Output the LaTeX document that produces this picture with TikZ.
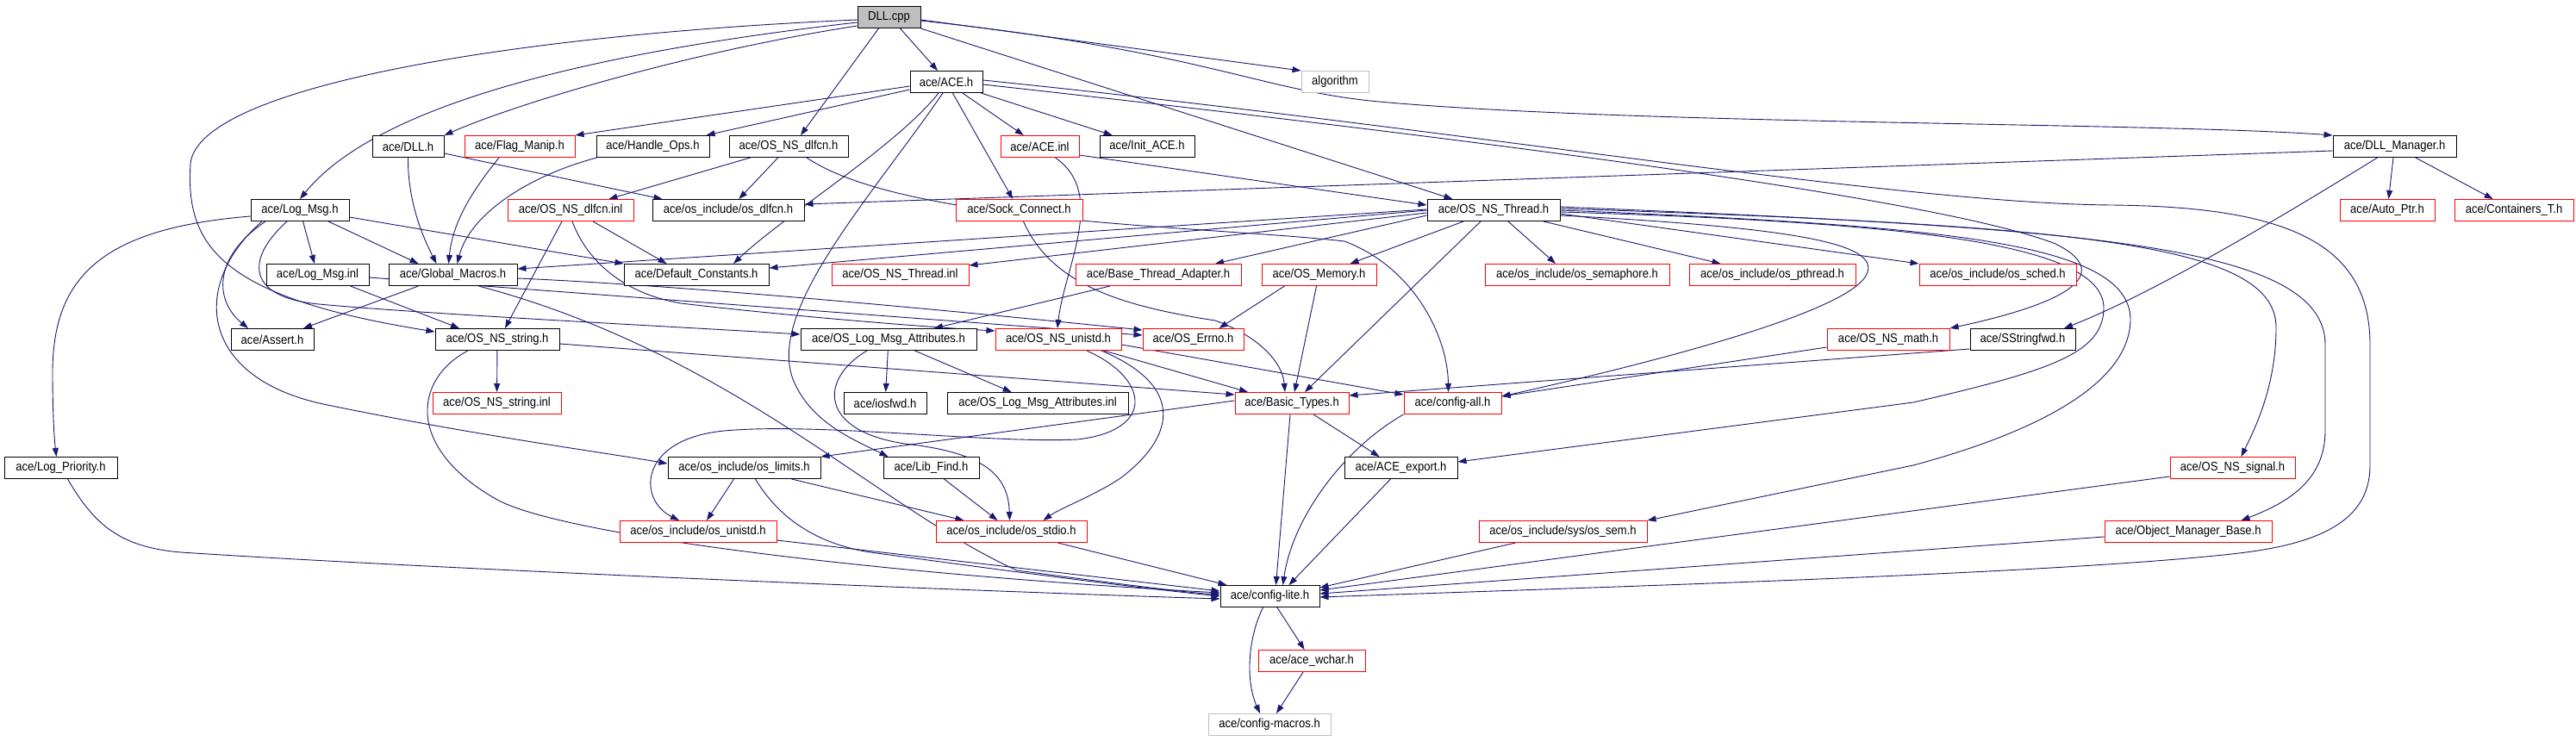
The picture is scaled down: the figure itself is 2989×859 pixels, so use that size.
\documentclass[tikz,border=0pt]{standalone}
\usepackage{fontspec}
\setmainfont[FakeStretch=0.9]{Liberation Sans}
\usetikzlibrary{arrows.meta}
\pgfdeclarelayer{bg}
\pgfsetlayers{bg,main}
\definecolor{edgec}{RGB}{25,25,112}
\definecolor{grayc}{RGB}{191,191,191}
\begin{document}
\begin{tikzpicture}[x=1pt,y=-1pt,
  bb/.style={draw=black, line width=1pt, minimum height=25pt, inner sep=0pt, fill=white, text=black, font=\fontsize{14.5}{16}\selectfont},
  rb/.style={bb, draw=red},
  gb/.style={bb, draw=grayc},
  edge/.style={draw=edgec, line width=0.9pt, -{Triangle[length=10pt,width=7pt]}}]
\path[use as bounding box] (0,0) rectangle (2989,859);
% row 0-1
\node[bb, fill=grayc, minimum width=73pt] (dllcpp) at (1031.5,20) {DLL.cpp};
\node[bb, minimum width=84pt] (aceh) at (1098,95) {ace/ACE.h};
\node[gb, minimum width=78pt] (algorithm) at (1549,95) {algorithm};
% row 2
\node[bb, minimum width=83pt] (dllh) at (473.5,170) {ace/DLL.h};
\node[rb, minimum width=128pt] (flagmanip) at (603,170) {ace/Flag\_Manip.h};
\node[bb, minimum width=131pt] (handleops) at (757.5,170) {ace/Handle\_Ops.h};
\node[bb, minimum width=138pt] (osnsdlfcnh) at (915,170) {ace/OS\_NS\_dlfcn.h};
\node[rb, minimum width=91pt] (aceinl) at (1206.5,170) {ace/ACE.inl};
\node[bb, minimum width=110pt] (initace) at (1331,170) {ace/Init\_ACE.h};
\node[bb, minimum width=143pt] (dllmanager) at (2778.5,170) {ace/DLL\_Manager.h};
% row 3
\node[bb, minimum width=114pt] (logmsgh) at (348,244) {ace/Log\_Msg.h};
\node[rb, minimum width=146pt] (osnsdlfcninl) at (662,244) {ace/OS\_NS\_dlfcn.inl};
\node[bb, minimum width=176pt] (osdlfcn) at (845,244) {ace/os\_include/os\_dlfcn.h};
\node[rb, minimum width=147pt] (sockconnect) at (1182.5,244) {ace/Sock\_Connect.h};
\node[bb, minimum width=154pt] (osnsthreadh) at (1733,244) {ace/OS\_NS\_Thread.h};
\node[rb, minimum width=110pt] (autoptr) at (2770,244) {ace/Auto\_Ptr.h};
\node[rb, minimum width=138pt] (containers) at (2917,244) {ace/Containers\_T.h};
% row 4
\node[bb, minimum width=119pt] (logmsginl) at (368.5,319) {ace/Log\_Msg.inl};
\node[bb, minimum width=149pt] (globalmacros) at (525.5,319) {ace/Global\_Macros.h};
\node[bb, minimum width=168pt] (defaultconst) at (808,319) {ace/Default\_Constants.h};
\node[rb, minimum width=159pt] (osnsthreadinl) at (1044.5,319) {ace/OS\_NS\_Thread.inl};
\node[rb, minimum width=192pt] (basethread) at (1344,319) {ace/Base\_Thread\_Adapter.h};
\node[rb, minimum width=133pt] (osmemory) at (1530.5,319) {ace/OS\_Memory.h};
\node[rb, minimum width=214pt] (ossemaphore) at (1830,319) {ace/os\_include/os\_semaphore.h};
\node[rb, minimum width=193pt] (ospthread) at (2056.5,319) {ace/os\_include/os\_pthread.h};
\node[rb, minimum width=182pt] (ossched) at (2318,319) {ace/os\_include/os\_sched.h};
% row 5
\node[bb, minimum width=96pt] (asserth) at (316,394) {ace/Assert.h};
\node[bb, minimum width=144pt] (osnsstringh) at (577,394) {ace/OS\_NS\_string.h};
\node[bb, minimum width=204pt] (oslogmsgattrh) at (1031,394) {ace/OS\_Log\_Msg\_Attributes.h};
\node[rb, minimum width=146pt] (osnsunistd) at (1228,394) {ace/OS\_NS\_unistd.h};
\node[rb, minimum width=117pt] (oserrno) at (1384.5,394) {ace/OS\_Errno.h};
\node[rb, minimum width=142pt] (osnsmath) at (2191,394) {ace/OS\_NS\_math.h};
\node[bb, minimum width=122pt] (sstringfwd) at (2347,394) {ace/SStringfwd.h};
% row 6
\node[rb, minimum width=149pt] (osnsstringinl) at (576.5,468) {ace/OS\_NS\_string.inl};
\node[bb, minimum width=96pt] (iosfwd) at (1027,468) {ace/iosfwd.h};
\node[bb, minimum width=210pt] (oslogmsgattrinl) at (1204,468) {ace/OS\_Log\_Msg\_Attributes.inl};
\node[rb, minimum width=132pt] (basictypes) at (1499,468) {ace/Basic\_Types.h};
\node[rb, minimum width=113pt] (configall) at (1685.5,468) {ace/config-all.h};
% row 7
\node[bb, minimum width=131pt] (logpriority) at (70.5,543) {ace/Log\_Priority.h};
\node[bb, minimum width=177pt] (oslimits) at (863.5,543) {ace/os\_include/os\_limits.h};
\node[bb, minimum width=111pt] (libfind) at (1080.5,543) {ace/Lib\_Find.h};
\node[bb, minimum width=131pt] (aceexport) at (1625.5,543) {ace/ACE\_export.h};
\node[rb, minimum width=145pt] (osnssignal) at (2590.5,543) {ace/OS\_NS\_signal.h};
% row 8
\node[rb, minimum width=182pt] (osunistd) at (810,617) {ace/os\_include/os\_unistd.h};
\node[rb, minimum width=175pt] (osstdio) at (1173.5,617) {ace/os\_include/os\_stdio.h};
\node[rb, minimum width=195pt] (ossem) at (1813.5,617) {ace/os\_include/sys/os\_sem.h};
\node[rb, minimum width=194pt] (objmgrbase) at (2539,617) {ace/Object\_Manager\_Base.h};
% rows 9-11
\node[bb, minimum width=115pt] (configlite) at (1473.5,692) {ace/config-lite.h};
\node[rb, minimum width=124pt] (acewchar) at (1522,767) {ace/ace\_wchar.h};
\node[gb, minimum width=142pt] (configmacros) at (1473,841) {ace/config-macros.h};

\begin{pgfonlayer}{bg}
\fill[white] (0,0) rectangle (2989,859);
% DLL.cpp
\draw[edge] ([xshift=13pt]dllcpp.south) -- ([xshift=-10pt]aceh.north);
\draw[edge] ([xshift=-12pt]dllcpp.south) -- ([xshift=14pt]osnsdlfcnh.north);
\draw[edge] ([yshift=-3pt]dllcpp.east) -- (algorithm.north west);
\draw[edge] ([yshift=-10pt]dllcpp.west) .. controls (800,60) and (600,120) .. (dllh.north east);
\draw[edge] ([yshift=-6pt]dllcpp.west) .. controls (650,65) and (430,130) .. (logmsgh.north);
\draw[edge] ([yshift=-3pt]dllcpp.west) .. controls (600,40) and (230,100) .. (221,190) .. controls (215,285) and (255,345) .. ([yshift=-4pt]osnsstringh.north west);
\draw[edge] ([yshift=-4pt]dllcpp.east) .. controls (1400,60) and (1460,105) .. (1600,118) .. controls (1900,145) and (2500,142) .. (dllmanager.north west);
\draw[edge] (dllcpp.south east) -- ([xshift=30pt]osnsthreadh.north west);
% ACE.h
\draw[edge] ([yshift=-5pt]aceh.west) -- (flagmanip.north east);
\draw[edge] ([yshift=-9pt]aceh.west) -- ([xshift=-4pt]handleops.north east);
\draw[edge] (aceh) -- (aceinl);
\draw[edge] (aceh) -- (initace);
\draw[edge] (aceh) -- (sockconnect);
\draw[edge] ([xshift=-9pt]aceh.south) .. controls (1040,170) and (910,250) .. ([xshift=43pt]defaultconst.north);
\draw[edge] ([xshift=-4pt]aceh.south) .. controls (1010,230) and (890,360) .. (920,440) .. controls (940,490) and (990,510) .. ([xshift=6pt]libfind.north west);
\draw[edge] ([yshift=-3pt]aceh.east) .. controls (1700,160) and (2250,230) .. (2385,283) .. controls (2440,310) and (2430,345) .. (osnsmath.north east);
\draw[edge] ([yshift=2pt]aceh.east) .. controls (1700,150) and (2200,236) .. (2450,238) .. controls (2650,240) and (2750,280) .. (2750,400) -- (2750,540) .. controls (2750,600) and (2700,630) .. (2598,642) .. controls (2400,665) and (1900,680) .. ([yshift=-1pt]configlite.east);
% DLL.h, Flag_Manip, Handle_Ops
\draw[edge] (dllh.south) .. controls (473,230) and (488,270) .. ([xshift=-19pt]globalmacros.north);
\draw[edge] ([yshift=-8pt]dllh.east) -- ([xshift=12pt]osdlfcn.north west);
\draw[edge] ([xshift=-24pt]flagmanip.south) .. controls (545,225) and (525,260) .. ([xshift=-5pt]globalmacros.north);
\draw[edge] ([xshift=-65pt]handleops.south) .. controls (610,205) and (545,250) .. ([xshift=5pt]globalmacros.north);
% OS_NS_dlfcn.h
\draw[edge] (osnsdlfcnh) -- (osnsdlfcninl);
\draw[edge] (osnsdlfcnh) -- (osdlfcn);
\draw[edge] ([xshift=21pt]osnsdlfcnh.south) .. controls (1050,260) and (1400,262) .. (1560,280) .. controls (1640,310) and (1680,390) .. ([xshift=-5pt]configall.north);
% ACE.inl
\draw[edge] ([xshift=18pt]aceinl.south) .. controls (1285,225) and (1235,310) .. ([xshift=-1pt]osnsunistd.north);
\draw[edge] ([yshift=-10pt]aceinl.east) -- ([yshift=6pt]osnsthreadh.west);
% DLL_Manager.h
\draw[edge] ([yshift=-5pt]dllmanager.west) -- ([yshift=7pt]osdlfcn.east);
\draw[edge] (dllmanager) -- (autoptr);
\draw[edge] (dllmanager) -- (containers);
\draw[edge] ([xshift=-20pt]dllmanager.south) .. controls (2650,250) and (2500,340) .. ([xshift=48pt]sstringfwd.north);
% Log_Msg.h
\draw[edge] ([yshift=-7pt]logmsgh.west) .. controls (120,265) and (62,320) .. (61,430) .. controls (61,480) and (63,510) .. ([xshift=-5pt]logpriority.north);
\draw[edge] ([xshift=-40pt]logmsgh.south) .. controls (245,300) and (250,350) .. ([xshift=-28pt]asserth.north);
\draw[edge] ([xshift=-44pt]logmsgh.south) .. controls (220,330) and (230,440) .. (380,470) .. controls (550,505) and (700,525) .. ([yshift=5pt]oslimits.west);
\draw[edge] ([xshift=-15pt]logmsgh.south) .. controls (285,300) and (285,345) .. (370,353) .. controls (500,365) and (800,380) .. ([yshift=6pt]oslogmsgattrh.west);
\draw[edge] (logmsgh) -- (logmsginl);
\draw[edge] ([xshift=33pt]logmsgh.south) -- ([xshift=-40pt]globalmacros.north);
\draw[edge] ([yshift=-8pt]logmsgh.east) -- (defaultconst.north west);
% OS_NS_dlfcn.inl
\draw[edge] ([xshift=-10pt]osnsdlfcninl.south) -- ([xshift=9pt]osnsstringh.north);
\draw[edge] ([xshift=26pt]osnsdlfcninl.south) -- ([xshift=50pt]defaultconst.north west);
\draw[edge] ([xshift=2pt]osnsdlfcninl.south) .. controls (680,300) and (720,340) .. (790,352) .. controls (900,365) and (1050,378) .. ([yshift=-3pt]osnsunistd.north west);
% Log_Msg.inl
\draw[edge] ([xshift=38pt]logmsginl.south) -- ([xshift=-44pt]osnsstringh.north);
\draw[edge] ([yshift=-3pt]logmsginl.east) -- ([yshift=5pt]oserrno.west);
% Global_Macros.h
\draw[edge] ([xshift=-40pt]globalmacros.south) -- ([xshift=36pt]asserth.north);
\draw[edge] ([yshift=-4pt]globalmacros.east) .. controls (760,330) and (1000,350) .. ([yshift=-2pt]oserrno.north west);
\draw[edge] ([xshift=30pt]globalmacros.south) .. controls (850,410) and (1020,590) .. (1180,662) .. controls (1300,678) and (1380,688) .. ([yshift=2pt]configlite.west);
% OS_NS_Thread.h
\draw[edge] ([yshift=1pt]osnsthreadh.west) -- ([yshift=7pt]globalmacros.east);
\draw[edge] (osnsthreadh.west) -- ([yshift=8pt]defaultconst.east);
\draw[edge] ([yshift=-3pt]osnsthreadh.west) -- ([yshift=11pt]osnsthreadinl.east);
\draw[edge] ([yshift=-6pt]osnsthreadh.west) -- ([xshift=66pt]basethread.north);
\draw[edge] ([xshift=-35pt]osnsthreadh.south) -- ([xshift=36pt]osmemory.north);
\draw[edge] ([xshift=-15pt]osnsthreadh.south) -- ([xshift=15pt]basictypes.north);
\draw[edge] ([xshift=17pt]osnsthreadh.south) -- ([xshift=-25pt]ossemaphore.north);
\draw[edge] ([xshift=58pt]osnsthreadh.south) -- ([xshift=-60pt]ospthread.north);
\draw[edge] ([yshift=-4pt]osnsthreadh.east) -- (ossched.north west);
\draw[edge] ([yshift=-6pt]osnsthreadh.east) .. controls (2100,265) and (2185,285) .. (2165,320) .. controls (2140,365) and (1900,425) .. ([yshift=8pt]configall.east);
\draw[edge] ([yshift=-2pt]osnsthreadh.east) .. controls (2200,258) and (2440,280) .. (2441,357) .. controls (2441,410) and (2380,430) .. (2220,467) -- ([yshift=7pt]aceexport.east);
\draw[edge] ([yshift=0pt]osnsthreadh.east) .. controls (2250,262) and (2470,280) .. (2472,370) .. controls (2472,450) and (2350,505) .. (2220,540) -- (ossem.north east);
\draw[edge] ([yshift=2pt]osnsthreadh.east) .. controls (2400,262) and (2641,280) .. (2641,380) .. controls (2641,450) and (2615,500) .. ([xshift=10pt]osnssignal.north);
\draw[edge] ([yshift=4pt]osnsthreadh.east) .. controls (2400,265) and (2698,280) .. (2698,400) -- (2698,500) .. controls (2698,560) and (2650,585) .. ([xshift=-36pt]objmgrbase.north east);
% Base_Thread_Adapter, OS_Memory
\draw[edge] ([xshift=-56pt]basethread.south) -- ([xshift=53pt]oslogmsgattrh.north);
\draw[edge] ([xshift=-40pt]osmemory.south) -- ([xshift=30pt]oserrno.north);
\draw[edge] ([xshift=-3pt]osmemory.south) -- ([xshift=3pt]basictypes.north);
% OS_NS_string.h
\draw[edge] (osnsstringh) -- (osnsstringinl);
\draw[edge] ([yshift=-5pt]osnsstringh.east) -- ([yshift=-3pt]basictypes.north west);
\draw[edge] ([xshift=-34pt]osnsstringh.south) .. controls (480,440) and (470,520) .. (577,580) .. controls (650,620) and (1000,665) .. ([yshift=4pt]configlite.west);
% OS_Log_Msg_Attributes.h
\draw[edge] (oslogmsgattrh) -- (iosfwd);
\draw[edge] (oslogmsgattrh) -- (oslogmsgattrinl);
\draw[edge] ([xshift=-25pt]oslogmsgattrh.south) .. controls (950,440) and (950,500) .. (1050,515) .. controls (1140,525) and (1170,550) .. ([xshift=-2pt]osstdio.north);
% OS_NS_unistd.h
\draw[edge] ([xshift=53pt]osnsunistd.south) -- ([xshift=-51pt]basictypes.north);
\draw[edge] ([yshift=-6pt]osnsunistd.east) -- ([yshift=10pt]configall.west);
\draw[edge] ([xshift=33pt]osnsunistd.south) .. controls (1335,440) and (1340,500) .. (1250,510) .. controls (1150,515) and (950,490) .. (840,500) .. controls (740,510) and (740,580) .. ([xshift=-22pt]osunistd.north);
\draw[edge] ([xshift=50pt]osnsunistd.south) .. controls (1380,450) and (1360,510) .. (1300,555) .. controls (1270,575) and (1230,590) .. ([xshift=37pt]osstdio.north);
% Sock_Connect.h
\draw[edge] ([xshift=5pt]sockconnect.south) .. controls (1220,330) and (1300,355) .. (1410,372) .. controls (1460,390) and (1488,420) .. ([xshift=-8pt]basictypes.north);
% Basic_Types.h
\draw[edge] ([yshift=3pt]basictypes.west) -- (oslimits.north east);
\draw[edge] ([xshift=-2pt]basictypes.south) -- ([xshift=7pt]configlite.north);
\draw[edge] ([xshift=25pt]basictypes.south) -- ([xshift=-25pt]aceexport.north);
% config-all.h, ACE_export.h
\draw[edge] (configall.south west) .. controls (1560,520) and (1500,600) .. ([xshift=15pt]configlite.north);
\draw[edge] ([xshift=-12pt]aceexport.south) -- ([xshift=22pt]configlite.north);
% OS_NS_math.h, SStringfwd.h
\draw[edge] ([yshift=-9pt]osnsmath.west) -- ([yshift=8pt]configall.east);
\draw[edge] ([yshift=-11pt]sstringfwd.west) -- ([yshift=9pt]basictypes.east);
% lower rows
\draw[edge] ([xshift=-55pt]ossem.south) -- ([yshift=10pt]configlite.east);
\draw[edge] ([yshift=-10pt]osnssignal.west) -- ([yshift=7pt]configlite.east);
\draw[edge] ([yshift=-6pt]objmgrbase.west) -- ([yshift=3pt]configlite.east);
\draw[edge] ([yshift=-10pt]osunistd.east) -- ([yshift=6pt]configlite.west);
\draw[edge] ([xshift=54pt]osstdio.south) -- ([xshift=8pt]configlite.north west);
\draw[edge] ([xshift=13pt]oslimits.south) .. controls (900,595) and (940,630) .. (1010,641) .. controls (1150,660) and (1300,680) .. ([yshift=0pt]configlite.west);
\draw[edge] ([xshift=-12pt]oslimits.south) -- ([xshift=10pt]osunistd.north);
\draw[edge] ([xshift=55pt]oslimits.south) -- ([xshift=-55pt]osstdio.north);
\draw[edge] ([xshift=15pt]libfind.south) -- ([xshift=-16pt]osstdio.north);
\draw[edge] ([xshift=8pt]logpriority.south) .. controls (110,610) and (140,635) .. (210,641) .. controls (500,660) and (1100,685) .. ([yshift=-3pt]configlite.west);
% config-lite.h
\draw[edge] (configlite) -- (acewchar);
\draw[edge] ([xshift=-8pt]configlite.south) .. controls (1448,740) and (1445,790) .. ([xshift=-11pt]configmacros.north);
\draw[edge] ([xshift=-10pt]acewchar.south) -- ([xshift=8pt]configmacros.north);
\end{pgfonlayer}
\end{tikzpicture}
\end{document}
